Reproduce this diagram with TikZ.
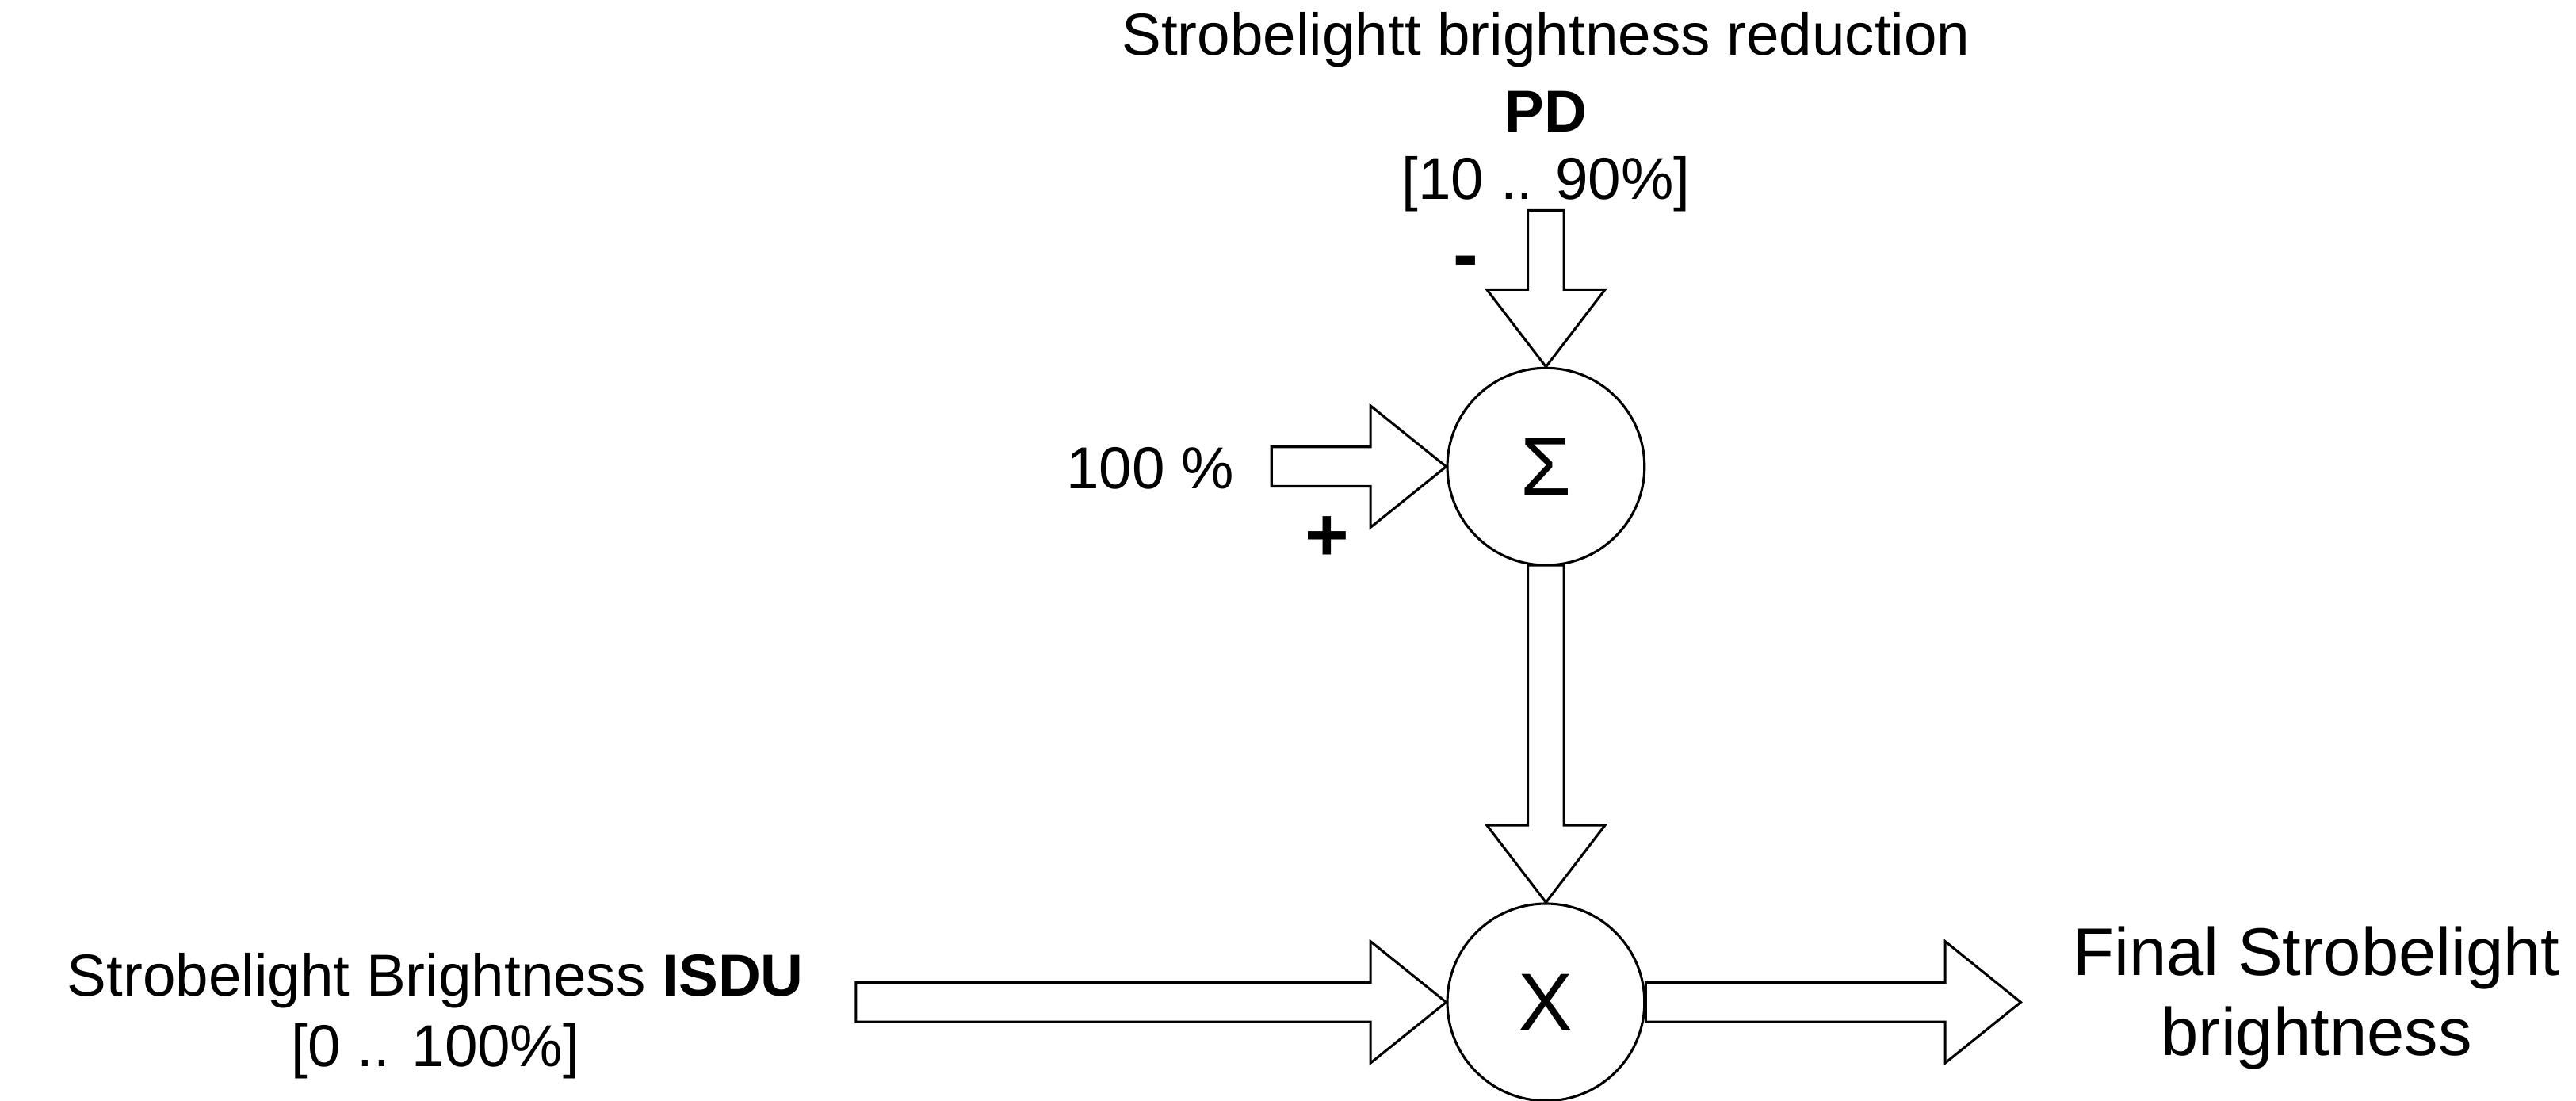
\documentclass[tikz,border=0pt]{standalone}
\usepackage{fontspec}
\setmainfont{Liberation Sans}
\usetikzlibrary{calc}
\tikzset{
  sumnode/.style={circle, draw, line width=1.5pt, minimum size=120pt, inner sep=0pt, font=\fontsize{50}{56}\selectfont},
  lbl/.style={font=\fontsize{36}{42}\selectfont, inner sep=0pt},
  sign/.style={font=\fontsize{46}{50}\selectfont\bfseries, inner sep=0pt},
  blk/.style={draw, line width=1.5pt, fill=white, line join=miter},
}
% block arrows: start coordinate, tip coordinate
\newcommand{\rblock}[2]{\draw[blk] let \p1=(#1), \p2=(#2) in
  (\x1,\y1+12pt) -- (\x2-46pt,\y1+12pt) -- (\x2-46pt,\y1+37pt) -- (\x2,\y1)
  -- (\x2-46pt,\y1-37pt) -- (\x2-46pt,\y1-12pt) -- (\x1,\y1-12pt) -- cycle;}
\newcommand{\dblock}[2]{\draw[blk] let \p1=(#1), \p2=(#2) in
  (\x1-11pt,\y1) -- (\x1-11pt,\y2+47pt) -- (\x1-36pt,\y2+47pt) -- (\x1,\y2)
  -- (\x1+36pt,\y2+47pt) -- (\x1+11pt,\y2+47pt) -- (\x1+11pt,\y1) -- cycle;}
\begin{document}
\begin{tikzpicture}[x=1pt, y=-1pt]
    \useasboundingbox (0,0) rectangle (1568,670);
    \node[sumnode] (sum) at (941,284) {Σ};
    \node[sumnode] (mul) at (941,610) {X};

    \node[lbl] (pdtitle) at (941,24) {Strobelightt brightness reduction};
    \node[lbl] (pd) at (941,68) {\textbf{PD}};
    \node[lbl] (pdrange) at (941,112) {[10 .. 90\%]};
    \node[sign] (minus) at (892,163) {-};
    \node[lbl] (hundred) at (700,285) {100 \%};
    \node[sign] (plus) at (808,328) {+};
    \node[lbl] (isdu) at (265,597) {Strobelight Brightness \textbf{ISDU}};
    \node[lbl] (isdurange) at (265,640) {[0 .. 100\%]};
    \node[lbl, font=\fontsize{41}{47}\selectfont] (final) at (1410,583) {Final Strobelight};
    \node[lbl, font=\fontsize{41}{47}\selectfont] (final2) at (1410,632) {brightness};

    \coordinate (pdin) at (941,128);
    \coordinate (hin) at (774,284);
    \coordinate (sumout) at (941,344);
    \coordinate (isdin) at (521,610);
    \coordinate (outend) at (1230,610);

    \dblock{pdin}{sum.north}
    \rblock{hin}{sum.west}
    \dblock{sumout}{mul.north}
    \rblock{isdin}{mul.west}
    \rblock{mul.east}{outend}
\end{tikzpicture}
\end{document}
